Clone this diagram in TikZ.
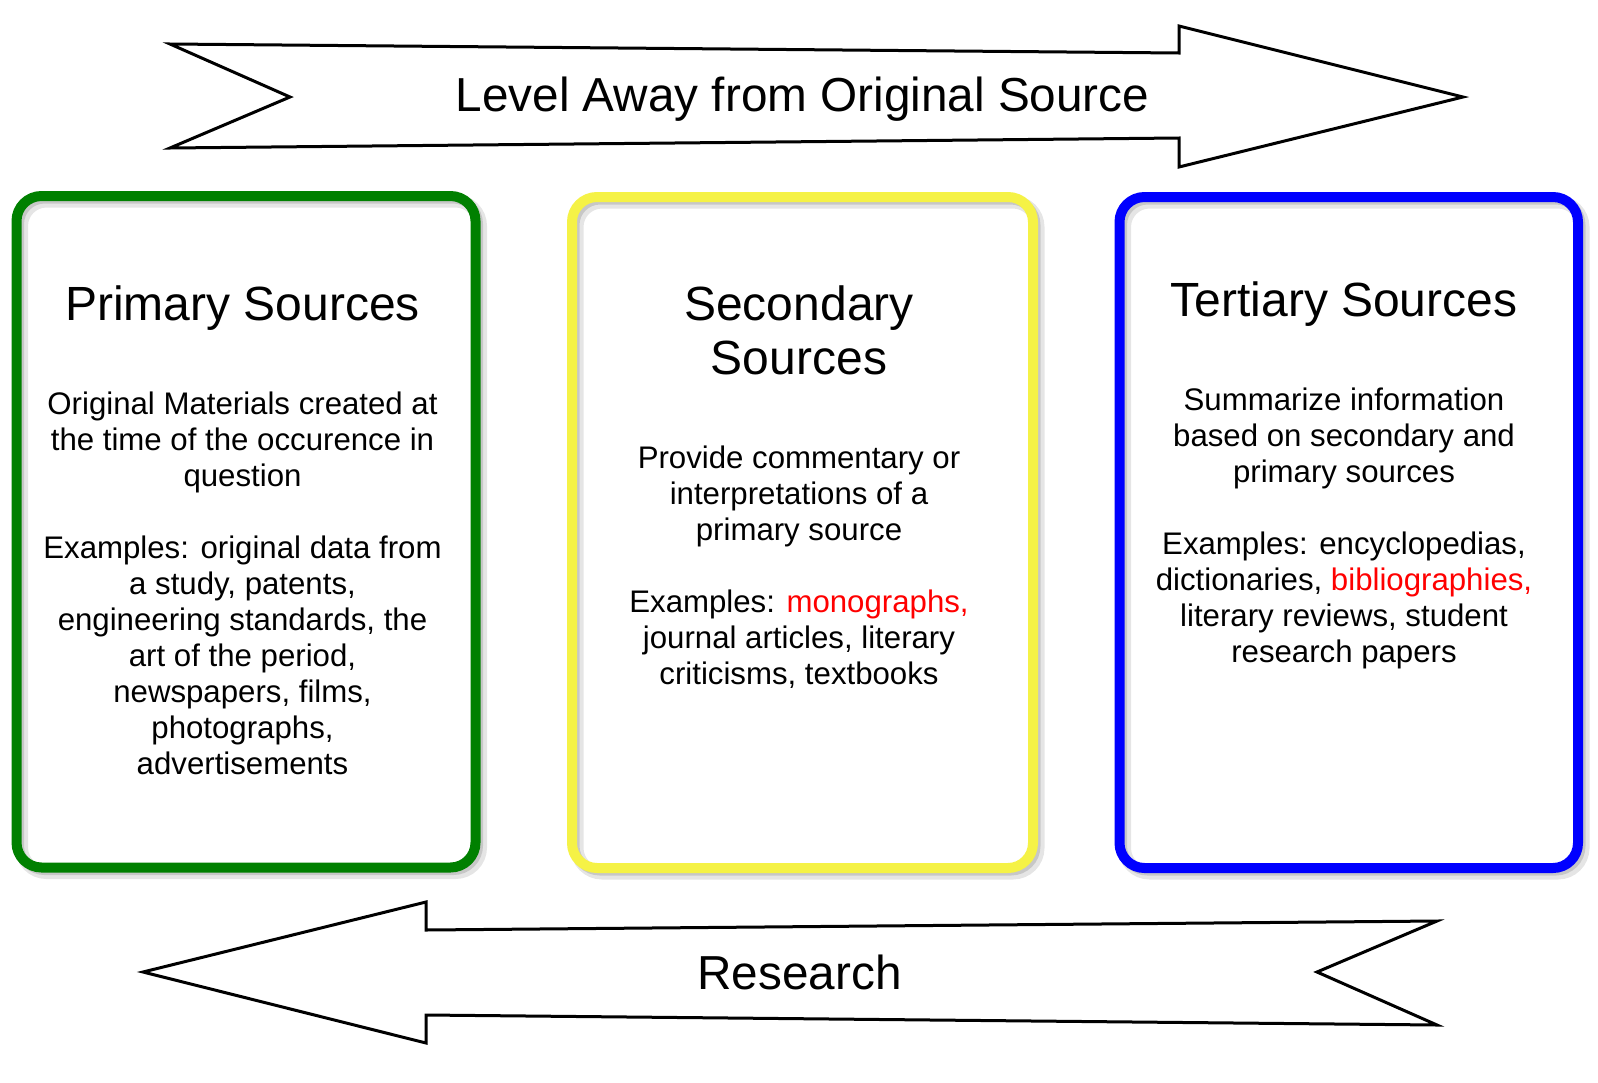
\documentclass[tikz,border=0pt]{standalone}
\usepackage{fontspec}
\setmainfont{Liberation Sans}
\definecolor{boxgreen}{RGB}{0,128,0}
\definecolor{boxyellow}{RGB}{245,242,70}
\definecolor{boxblue}{RGB}{0,0,255}
\definecolor{hired}{RGB}{255,0,0}
\begin{document}
\begin{tikzpicture}[x=1pt,y=-1pt,
  srcbox/.style={rectangle, rounded corners=25pt, inner sep=0pt, outer sep=0pt, line width=10pt},
  shadowA/.style={draw=black, opacity=0.10, line width=13pt, rounded corners=25pt},
  shadowB/.style={draw=black, opacity=0.13, line width=9pt, rounded corners=25pt},
  bigarrow/.style={draw=black, line width=3pt, fill=white, line join=miter},
  arrowlabel/.style={font=\fontsize{47.7}{52}\selectfont, text height=34pt, text depth=0pt, inner sep=0pt},
  boxtitle/.style={font=\fontsize{48}{54}\selectfont, align=center, inner sep=0pt},
  boxtitleone/.style={boxtitle, text height=34pt, text depth=0pt},
  boxbody/.style={font=\fontsize{31.2}{36}\selectfont, align=center, inner sep=0pt}
]
\useasboundingbox[fill=white] (0,0) rectangle (1598,1082);

% arrows
\draw[bigarrow] (170,44) -- (1179,53) -- (1179,26) -- (1463,97) -- (1179,167) -- (1179,138) -- (170,148) -- (290,97) -- cycle;
\node[arrowlabel] (level) at (802.5,94) {Level Away from Original Source};

\draw[bigarrow] (143,972) -- (426,902) -- (426,930) -- (1437,921) -- (1317,972) -- (1437,1025) -- (426,1015) -- (426,1043) -- cycle;
\node[arrowlabel] (research) at (799.5,972) {Research};

% shadows
\foreach \l/\t/\r/\b in {16.5/196/475.5/867.5, 572/197/1033/868, 1119.5/197/1578/868}{
  \draw[shadowA] (\l+5,\t+5) rectangle (\r+5,\b+5);
  \draw[shadowB] (\l+3,\t+3) rectangle (\r+3,\b+3);
}

% boxes
\node[srcbox, draw=boxgreen, minimum width=459pt, minimum height=671.5pt] (primary) at (246,531.75) {};
\node[srcbox, draw=boxyellow, minimum width=461pt, minimum height=671pt] (secondary) at (802.5,532.5) {};
\node[srcbox, draw=boxblue, minimum width=458.5pt, minimum height=671pt] (tertiary) at (1348.75,532.5) {};

% primary text
\node[boxtitleone] (ptitle) at (242.5,303) {Primary Sources};
\node[boxbody] (pbody) at (242.5,583.5) {Original Materials created at\\the time of the occurence in\\question\\[36pt]Examples: original data from\\a study, patents,\\engineering standards, the\\art of the period,\\newspapers, films,\\photographs,\\advertisements};

% secondary text
\node[boxtitle] (stitle) at (799,330) {Secondary\\Sources};
\node[boxbody] (sbody) at (799,567) {Provide commentary or\\interpretations of a\\primary source\\[36pt]Examples: \textcolor{hired}{monographs,}\\journal articles, literary\\criticisms, textbooks};

% tertiary text
\node[boxtitleone] (ttitle) at (1344,299) {Tertiary Sources};
\node[boxbody] (tbody) at (1344,528) {Summarize information\\based on secondary and\\primary sources\\[36pt]Examples: encyclopedias,\\dictionaries, \textcolor{hired}{bibliographies,}\\literary reviews, student\\research papers};
\end{tikzpicture}
\end{document}
